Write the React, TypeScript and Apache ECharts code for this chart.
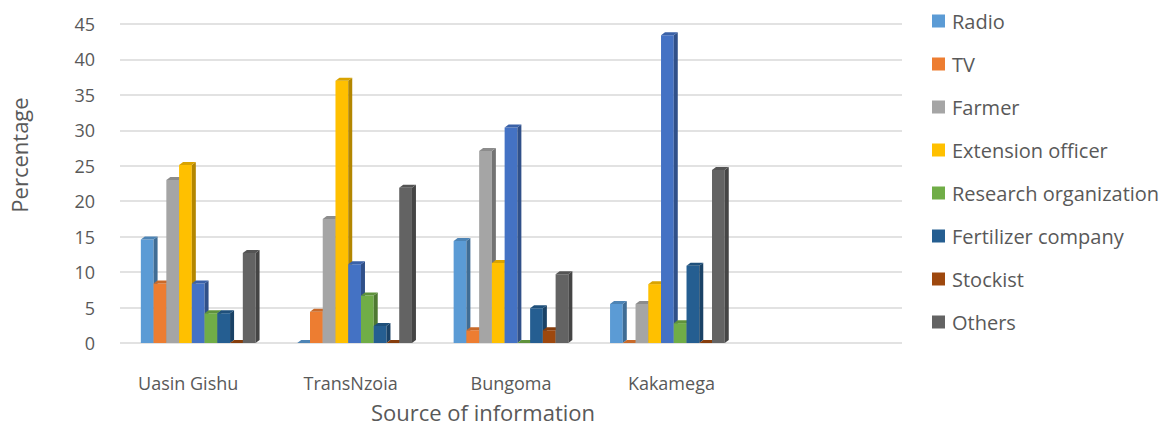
import React, { useEffect, useRef } from "react";
import * as echarts from "echarts";

const categories = ["Uasin Gishu", "TransNzoia", "Bungoma", "Kakamega", ""];
const yTicks = [0, 5, 10, 15, 20, 25, 30, 35, 40, 45];

const radio = [14.6, 0, 14.4, 5.5];
const tv = [8.4, 4.4, 1.8, 0];
const farmer = [23.0, 17.5, 27.1, 5.5];
const extension = [25.1, 37.0, 11.3, 8.3];
const series5 = [8.4, 11.1, 30.4, 43.4];
const research = [4.2, 6.7, 0, 2.8];
const fertilizer = [4.2, 2.4, 4.9, 10.9];
const stockist = [0, 0, 1.8, 0];
const others = [12.7, 21.9, 9.7, 24.4];

const seriesDefs = [
  { name: "Radio", data: radio, color: "#5B9BD5" },
  { name: "TV", data: tv, color: "#ED7D31" },
  { name: "Farmer", data: farmer, color: "#A5A5A5" },
  { name: "Extension officer", data: extension, color: "#FFC000" },
  { name: "Series5", data: series5, color: "#4472C4" },
  { name: "Research organization", data: research, color: "#70AD47" },
  { name: "Fertilizer company", data: fertilizer, color: "#255E91" },
  { name: "Stockist", data: stockist, color: "#9E480E" },
  { name: "Others", data: others, color: "#636363" },
];
const legendNames = [
  "Radio",
  "TV",
  "Farmer",
  "Extension officer",
  "Research organization",
  "Fertilizer company",
  "Stockist",
  "Others",
];

const FONT = "'Open Sans', sans-serif";

function shade(hex: string, f: number) {
  const n = parseInt(hex.slice(1), 16);
  const r = Math.round(((n >> 16) & 255) * f);
  const g = Math.round(((n >> 8) & 255) * f);
  const b = Math.round((n & 255) * f);
  return `rgb(${Math.min(255, r)},${Math.min(255, g)},${Math.min(255, b)})`;
}

export default function App() {
  const ref = useRef<HTMLDivElement>(null);
  useEffect(() => {
    if (!ref.current) return;
    const chart = echarts.init(ref.current, null, { renderer: "svg" });
    const nSeries = seriesDefs.length;
    const series = seriesDefs.map((s, si) => ({
      type: "custom",
      name: s.name,
      itemStyle: { color: s.color },
      clip: false,
      encode: { x: 0, y: 1 },
      data: s.data.map((v, i) => [i, v]),
      renderItem: (params: any, api: any) => {
        const ci = api.value(0);
        const v = api.value(1);
        const base = api.coord([ci, 0]);
        const top = api.coord([ci, v]);
        const band = api.size([1, 0])[0];
        const pitch = band * 0.0815;
        const groupW = pitch * nSeries;
        const x = base[0] - groupW / 2 + si * pitch;
        const w = pitch;
        const d = 4;
        const dy = 3;
        return {
          type: "group",
          children: [
            {
              type: "rect",
              shape: { x, y: top[1], width: w, height: base[1] - top[1] },
              style: { fill: s.color },
            },
            {
              type: "polygon",
              shape: {
                points: [
                  [x + w, top[1]],
                  [x + w + d, top[1] - dy],
                  [x + w + d, base[1] - dy],
                  [x + w, base[1]],
                ],
              },
              style: { fill: shade(s.color, 0.7) },
            },
            {
              type: "polygon",
              shape: {
                points: [
                  [x, top[1]],
                  [x + d, top[1] - dy],
                  [x + w + d, top[1] - dy],
                  [x + w, top[1]],
                ],
              },
              style: { fill: shade(s.color, 0.85) },
            },
          ],
        };
      },
    }));

    const labelRich: any = {
      c0: { color: "#595959", fontSize: 18, fontFamily: FONT, padding: [0, 20, 0, 0] },
      c1: { color: "#595959", fontSize: 18, fontFamily: FONT, padding: [0, 8, 0, 0] },
      c2: { color: "#595959", fontSize: 18, fontFamily: FONT },
      c3: { color: "#595959", fontSize: 18, fontFamily: FONT, padding: [0, 0, 0, 8] },
      c4: { color: "#595959", fontSize: 18, fontFamily: FONT },
    };

    chart.setOption({
      animation: false,
      grid: { left: 120, right: 266, top: 24, bottom: 83 },
      legend: {
        data: legendNames,
        orient: "vertical",
        left: 927,
        top: 6,
        itemWidth: 13,
        itemHeight: 13,
        itemGap: 23,
        icon: "rect",
        textStyle: {
          color: "#595959",
          fontSize: 20,
          fontFamily: FONT,
          padding: [0, 0, 0, 2],
        },
      },
      xAxis: {
        type: "category",
        data: categories,
        axisLine: { show: false },
        axisTick: { show: false },
        axisLabel: {
          color: "#595959",
          fontSize: 18,
          fontFamily: FONT,
          margin: 31,
          interval: 0,
          formatter: (val: string, idx: number) =>
            val ? `{c${idx}|${val}}` : "",
          rich: labelRich,
        },
      },
      yAxis: {
        type: "value",
        min: yTicks[0],
        max: yTicks[yTicks.length - 1],
        interval: 5,
        axisLine: { show: false },
        axisTick: { show: false },
        axisLabel: {
          color: "#595959",
          fontSize: 18,
          fontFamily: FONT,
          margin: 25,
        },
        splitLine: { lineStyle: { color: "#D9D9D9", width: 1.5 } },
      },
      graphic: [
        {
          type: "text",
          x: 19,
          y: 155,
          rotation: Math.PI / 2,
          style: {
            text: "Percentage",
            fill: "#595959",
            fontSize: 22,
            fontFamily: FONT,
            textAlign: "center",
            textVerticalAlign: "middle",
          },
        },
        {
          type: "text",
          x: 483,
          y: 412,
          style: {
            text: "Source of information",
            fill: "#595959",
            fontSize: 22,
            fontFamily: FONT,
            textAlign: "center",
            textVerticalAlign: "middle",
          },
        },
      ],
      series,
    });
    return () => chart.dispose();
  }, []);
  return (
    <div
      ref={ref}
      style={{ position: "absolute", left: 0, top: 0, width: 1168, height: 426 }}
    />
  );
}
